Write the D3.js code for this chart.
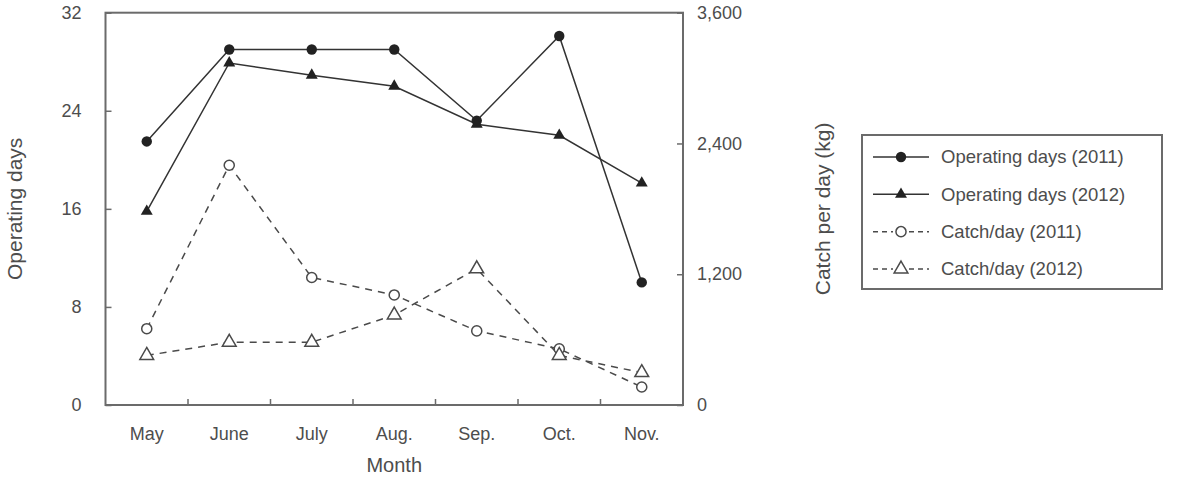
<!DOCTYPE html>
<html>
<head>
<meta charset="utf-8">
<script src="https://cdn.jsdelivr.net/npm/d3@7"></script>
<style>
  html, body { margin: 0; padding: 0; background: #fff; }
  svg { display: block; font-family: "Liberation Sans", Arial, sans-serif; }
</style>
</head>
<body>
<svg id="chart" width="1186" height="478"></svg>
<script>
const months = ["May", "June", "July", "Aug.", "Sep.", "Oct.", "Nov."];
const opDays2011 = [21.5, 29, 29, 29, 23.2, 30.1, 10];
const opDays2012 = [15.8, 27.9, 26.9, 26, 22.9, 22, 18.1];
const catch2011 = [700, 2200, 1170, 1010, 680, 515, 165];
const catch2012 = [455, 576, 576, 826, 1250, 455, 297];
const leftTicks = [0, 8, 16, 24, 32];
const rightTicks = [0, 1200, 2400, 3600];
const legendLabels = ["Operating days (2011)", "Operating days (2012)", "Catch/day (2011)", "Catch/day (2012)"];

const svg = d3.select("#chart");
const L = 105.5, R = 683, T = 12.7, B = 405;
const textColor = "#4d4d4d";
const lineColor = "#333";

const x = d3.scaleBand().domain(months).range([L, R]).paddingInner(0).paddingOuter(0);
const yL = d3.scaleLinear().domain([0, 32]).range([B, T]);
const yR = d3.scaleLinear().domain([0, 3600]).range([B, T]);
const cx = m => x(m) + x.bandwidth() / 2;

// Frame
svg.append("rect").attr("x", L).attr("y", T).attr("width", R - L).attr("height", B - T)
  .attr("fill", "none").attr("stroke", "#6b6b6b").attr("stroke-width", 2);

// Left axis
const gL = svg.append("g").attr("transform", `translate(${L},0)`)
  .call(d3.axisLeft(yL).tickValues(leftTicks).tickSize(-6).tickPadding(24).tickFormat(d3.format("d")));
gL.select(".domain").remove();
gL.selectAll("line").attr("stroke", "#6b6b6b").attr("stroke-width", 1.5);
gL.selectAll("text").attr("fill", textColor).style("font-size", "18px");

// Right axis
const gR = svg.append("g").attr("transform", `translate(${R},0)`)
  .call(d3.axisRight(yR).tickValues(rightTicks).tickSize(-6).tickPadding(14).tickFormat(d3.format(",")));
gR.select(".domain").remove();
gR.selectAll("line").attr("stroke", "#6b6b6b").attr("stroke-width", 1.5);
gR.selectAll("text").attr("fill", textColor).style("font-size", "18px");

// Bottom axis labels
const gB = svg.append("g").attr("transform", `translate(0,${B})`)
  .call(d3.axisBottom(x).tickSize(0).tickPadding(22));
gB.select(".domain").remove();
gB.selectAll("text").attr("fill", textColor).style("font-size", "18px");

// Category boundary ticks (pointing inward)
svg.append("g").selectAll("line").data(months.slice(1)).join("line")
  .attr("x1", d => x(d)).attr("x2", d => x(d))
  .attr("y1", B).attr("y2", B - 6)
  .attr("stroke", "#6b6b6b").attr("stroke-width", 1.5);

// Axis titles
svg.append("text").attr("transform", `translate(22,${(T + B) / 2}) rotate(-90)`)
  .attr("text-anchor", "middle").attr("fill", textColor).style("font-size", "21px").text("Operating days");
svg.append("text").attr("transform", `translate(830,${(T + B) / 2}) rotate(-90)`)
  .attr("text-anchor", "middle").attr("fill", textColor).style("font-size", "21px").text("Catch per day (kg)");
svg.append("text").attr("x", (L + R) / 2).attr("y", 472)
  .attr("text-anchor", "middle").attr("fill", textColor).style("font-size", "20px").text("Month");

// Series
const series = [
  { vals: opDays2011, y: yL, dash: null, shape: "circle", fill: "#222" },
  { vals: opDays2012, y: yL, dash: null, shape: "triangle", fill: "#222" },
  { vals: catch2011, y: yR, dash: "7,6", shape: "circle", fill: "#fff" },
  { vals: catch2012, y: yR, dash: "7,6", shape: "triangle", fill: "#fff" }
];

const circleSym = d3.symbol().type(d3.symbolCircle).size(85);
const triSym = d3.symbol().type(d3.symbolTriangle).size(62);
const openCircleSym = d3.symbol().type(d3.symbolCircle).size(80);
const openTriSym = d3.symbol().type(d3.symbolTriangle).size(82);

function symFor(s) {
  if (s.fill === "#fff") return s.shape === "circle" ? openCircleSym : openTriSym;
  return s.shape === "circle" ? circleSym : triSym;
}

series.forEach(s => {
  const line = d3.line().x((d, i) => cx(months[i])).y(d => s.y(d));
  svg.append("path").datum(s.vals).attr("d", line)
    .attr("fill", "none").attr("stroke", s.fill === "#fff" ? "#4a4a4a" : lineColor)
    .attr("stroke-width", 1.5)
    .attr("stroke-dasharray", s.dash);
});
series.forEach(s => {
  svg.append("g").selectAll("path").data(s.vals).join("path")
    .attr("transform", (d, i) => `translate(${cx(months[i])},${s.y(d)})`)
    .attr("d", symFor(s))
    .attr("fill", s.fill)
    .attr("stroke", s.fill === "#fff" ? "#4a4a4a" : "none")
    .attr("stroke-width", 1.5);
});

// Legend
const lg = svg.append("g");
lg.append("rect").attr("x", 862).attr("y", 135).attr("width", 300).attr("height", 154)
  .attr("fill", "#fff").attr("stroke", "#6b6b6b").attr("stroke-width", 2);
const rowY = d3.scalePoint().domain(legendLabels).range([157, 269]);
legendLabels.forEach((lab, i) => {
  const s = series[i];
  const yy = rowY(lab);
  if (s.dash) {
    lg.append("line").attr("x1", 873).attr("x2", 893).attr("y1", yy).attr("y2", yy)
      .attr("stroke", "#4a4a4a").attr("stroke-width", 1.5).attr("stroke-dasharray", "5,4");
    lg.append("line").attr("x1", 909).attr("x2", 929).attr("y1", yy).attr("y2", yy)
      .attr("stroke", "#4a4a4a").attr("stroke-width", 1.5).attr("stroke-dasharray", "5,4");
  } else {
    lg.append("line").attr("x1", 873).attr("x2", 929).attr("y1", yy).attr("y2", yy)
      .attr("stroke", lineColor).attr("stroke-width", 1.5);
  }
  lg.append("path").attr("transform", `translate(901,${yy})`).attr("d", symFor(s))
    .attr("fill", s.fill).attr("stroke", s.fill === "#fff" ? "#4a4a4a" : "none").attr("stroke-width", 1.5);
  lg.append("text").attr("x", 941).attr("y", yy).attr("dy", "0.35em")
    .attr("fill", textColor).style("font-size", "18.5px").text(lab);
});
</script>
</body>
</html>
